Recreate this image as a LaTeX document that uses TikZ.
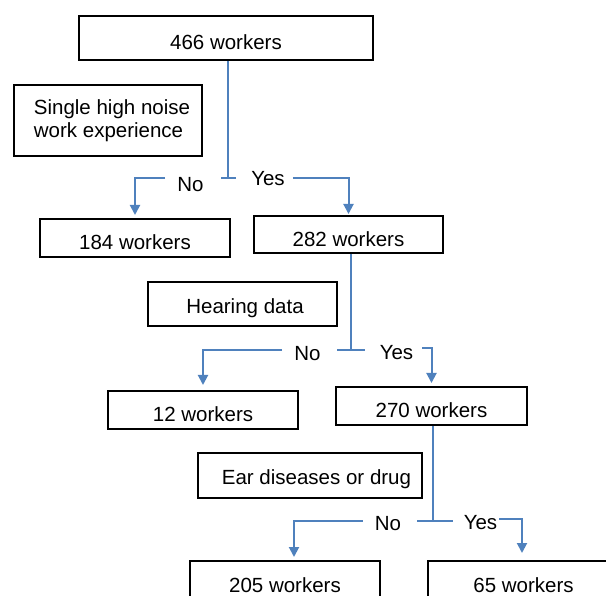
\documentclass[tikz,border=0pt]{standalone}
\usepackage{fontspec}
\setmainfont{Liberation Sans}
\usetikzlibrary{arrows.meta, positioning, calc}
\definecolor{flowblue}{RGB}{79,129,189}
\tikzset{
  box/.style={draw=black, line width=2pt, minimum height=38pt, inner sep=2pt,
    font=\fontsize{20.5}{23}\selectfont},
  countbox/.style={box, text height=24pt, text depth=0pt},
  notebox/.style={box, text height=19pt, text depth=0pt},
  lbl/.style={inner xsep=12pt, inner ysep=2pt, font=\fontsize{20.5}{23}\selectfont},
  tbar/.style={draw=flowblue, line width=2pt},
  flow/.style={tbar, -{Triangle[length=10pt,width=10pt]}, shorten >=3pt},
}

\begin{document}
\begin{tikzpicture}[x=1pt, y=-1pt]
\useasboundingbox (0,0) rectangle (606,596);
\clip (0,0) rectangle (606,596);
\node[countbox, minimum width=294pt, minimum height=44pt] (n466) at (226,38) {466 workers};
\node[box, minimum width=188pt, minimum height=71pt, align=left] (single) at (108,120.5) {\hspace*{8pt}Single high noise\\\hspace*{8pt}work experience};
\node[countbox, minimum width=190pt] (n184) at (135,238) {184 workers};
\node[countbox, minimum width=189pt, minimum height=37pt] (n282) at (348.5,234.5) {282 workers};
\node[notebox, minimum width=189pt, minimum height=44pt] (hearing) at (242.5,304) {\hspace*{5pt}Hearing data};
\node[countbox, minimum width=190pt] (n12) at (203,410) {12 workers};
\node[countbox, minimum width=191pt] (n270) at (431.5,406) {270 workers};
\node[notebox, minimum width=224pt, minimum height=45pt] (ear) at (310,475.5) {\hspace*{13pt}Ear diseases or drug};
\node[countbox, minimum width=190pt] (n205) at (285,580) {205 workers};
\node[countbox, minimum width=191pt] (n65) at (523.5,580) {65 workers};

\coordinate (t1) at (228,178);
\coordinate (t2) at (351,350);
\coordinate (t3) at (433,521);
\node[lbl] (no1) at (190.5,185) {No};
\node[lbl] (yes1) at (268,179) {Yes};
\node[lbl] (no2) at (307.5,354) {No};
\node[lbl] (yes2) at (396.5,353) {Yes};
\node[lbl] (no3) at (388,524) {No};
\node[lbl] (yes3) at (480.5,523) {Yes};

\draw[tbar] (t1 |- n466.south) -- (t1);
\draw[tbar] ([xshift=-7pt]t1) -- ([xshift=8pt]t1);
\draw[flow] (no1.west |- t1) -| (n184.north);
\draw[flow, shorten >=1pt] ([xshift=-4pt]yes1.east |- t1) -| (n282.north);

\draw[tbar] (t2 |- n282.south) -- (t2);
\draw[tbar] ([xshift=-14pt]t2) -- ([xshift=14pt]t2);
\draw[flow, shorten >=5pt] (no2.west |- t2) -| (n12.north);
\draw[flow] ([xshift=-3pt, yshift=2pt]yes2.east |- t2) -| (n270.north);

\draw[tbar] (t3 |- n270.south) -- (t3);
\draw[tbar] ([xshift=-16pt]t3) -- ([xshift=20pt]t3);
\draw[flow] (no3.west |- t3) -| ([xshift=9pt]n205.north);
\draw[flow, shorten >=7pt] ([xshift=-10pt, yshift=2pt]yes3.east |- t3) -| ([xshift=-1.5pt]n65.north);
\end{tikzpicture}
\end{document}
